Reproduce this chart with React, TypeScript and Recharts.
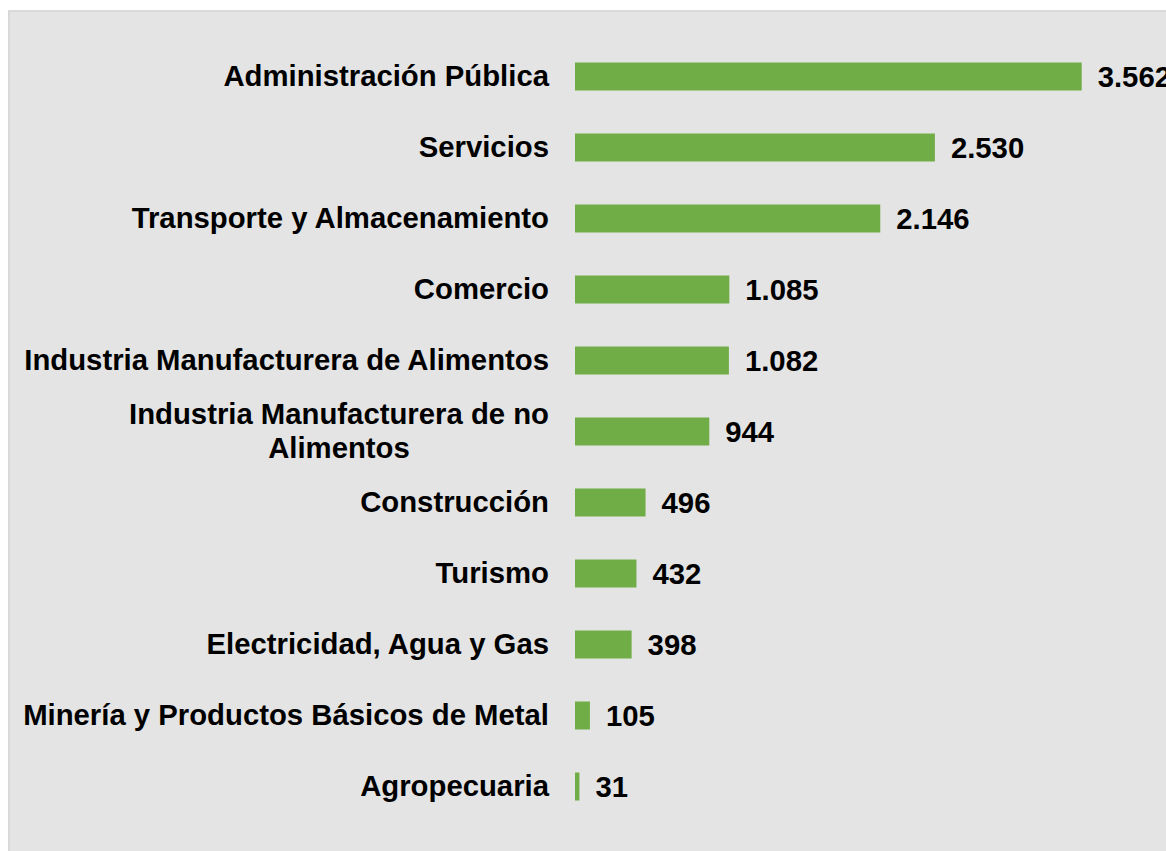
import { Bar, BarChart, LabelList, XAxis, YAxis } from "recharts";

const sectors = [
  "Administración Pública",
  "Servicios",
  "Transporte y Almacenamiento",
  "Comercio",
  "Industria Manufacturera de Alimentos",
  "Industria Manufacturera de no\nAlimentos",
  "Construcción",
  "Turismo",
  "Electricidad, Agua y Gas",
  "Minería y Productos Básicos de Metal",
  "Agropecuaria",
];

const workers = [3562, 2530, 2146, 1085, 1082, 944, 496, 432, 398, 105, 31];

const data = sectors.map((name, i) => ({ name, value: workers[i] }));

const FONT = '"Liberation Sans", Arial, sans-serif';
const FONT_SIZE = 29.3;

function formatThousands(v: number) {
  return String(v).replace(/\B(?=(\d{3})+(?!\d))/g, ".");
}

let ctx: CanvasRenderingContext2D | null = null;
function textWidth(s: string) {
  if (!ctx) ctx = document.createElement("canvas").getContext("2d");
  if (!ctx) return s.length * FONT_SIZE * 0.55;
  ctx.font = `bold ${FONT_SIZE}px ${FONT}`;
  return ctx.measureText(s).width;
}

function SectorTick({ x, y, payload }: any) {
  const lines = String(payload.value).split("\n");
  if (lines.length === 1) {
    return (
      <text x={x} y={y} dy="0.355em" textAnchor="end" fill="#000" fontSize={FONT_SIZE} fontWeight="bold" fontFamily={FONT}>
        {lines[0]}
      </text>
    );
  }
  // multi-line labels are centered as a block, block aligned right
  const block = Math.max(...lines.map(textWidth));
  const cx = x - block / 2;
  const lineGap = 34;
  const top = y - ((lines.length - 1) * lineGap) / 2;
  return (
    <text textAnchor="middle" fill="#000" fontSize={FONT_SIZE} fontWeight="bold" fontFamily={FONT}>
      {lines.map((l, i) => (
        <tspan key={i} x={cx} y={top + i * lineGap} dy="0.355em">
          {l}
        </tspan>
      ))}
    </text>
  );
}

export default function App() {
  return (
    <div
      style={{
        position: "fixed",
        left: 0,
        top: 0,
        width: 1166,
        height: 851,
        overflow: "hidden",
        background: "#fff",
      }}
    >
      <div
        style={{
          position: "absolute",
          left: 8,
          top: 10,
          width: 1180,
          height: 860,
          background: "#e4e4e4",
          border: "2px solid #d9d9d9",
          boxSizing: "border-box",
        }}
      />
      <div style={{ position: "absolute", left: 0, top: 0 }}>
        <BarChart
          width={1166}
          height={851}
          data={data}
          layout="vertical"
          margin={{ top: 40.5, right: 22, bottom: 29.5, left: 0 }}
          barSize={28}
        >
          <XAxis type="number" domain={[0, 4000]} hide />
          <YAxis
            type="category"
            dataKey="name"
            width={575}
            axisLine={false}
            tickLine={false}
            tickSize={0}
            tickMargin={26}
            interval={0}
            tick={<SectorTick />}
          />
          <Bar dataKey="value" fill="#70ad47" isAnimationActive={false}>
            <LabelList
              dataKey="value"
              position="right"
              offset={16}
              formatter={(v: any) => formatThousands(Number(v))}
              style={{
                fill: "#000",
                fontSize: FONT_SIZE,
                fontWeight: "bold",
                fontFamily: FONT,
              }}
            />
          </Bar>
        </BarChart>
      </div>
    </div>
  );
}
